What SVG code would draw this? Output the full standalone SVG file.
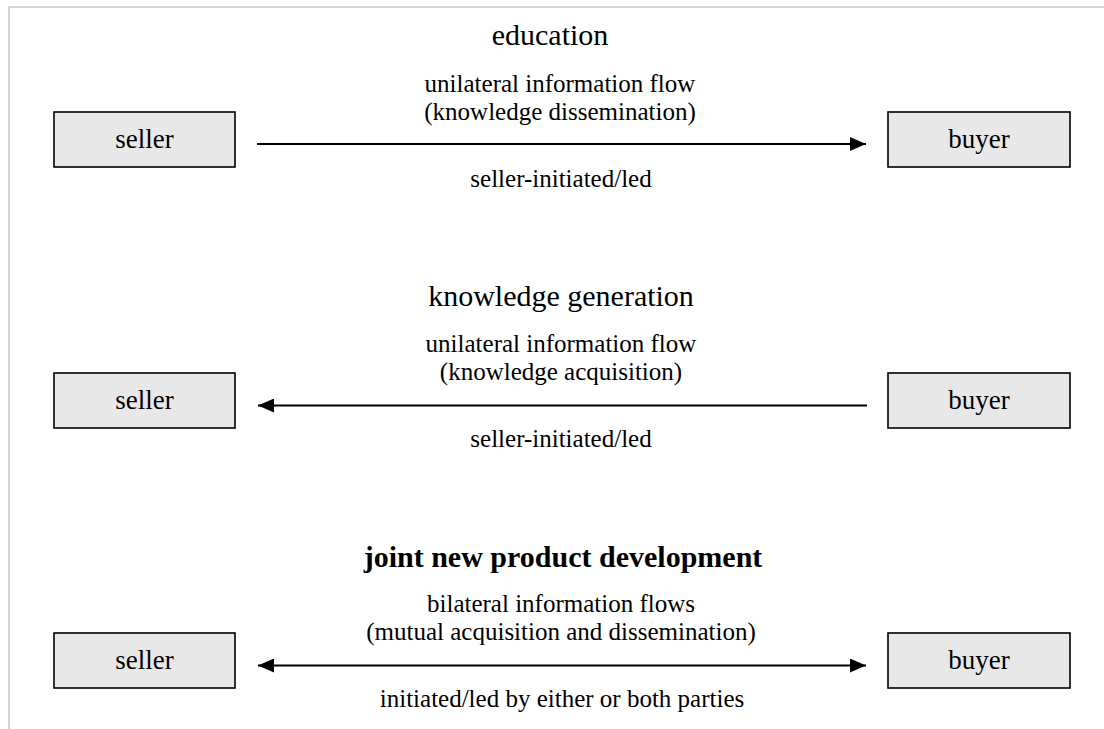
<svg xmlns="http://www.w3.org/2000/svg" width="1104" height="729" viewBox="0 0 1104 729">
<style>
text{font-family:"Liberation Serif","Tinos","Nimbus Roman","Times New Roman","DejaVu Serif",serif;fill:#000;text-anchor:middle;font-weight:normal}
.box{fill:#e8e8e8;stroke:#000;stroke-width:1.6}
.bt{font-size:27px}
.h{font-size:30px}
.hb{font-weight:bold}
.t{font-size:25px}
.ln{stroke:#000;stroke-width:1.8;fill:none}
</style>
<defs>
<marker id="ae" viewBox="0 0 16 14" refX="16" refY="7" markerWidth="16" markerHeight="14" markerUnits="userSpaceOnUse" orient="auto">
<path d="M0,0 L16,7 L0,14 Z" fill="#000"/>
</marker>
<marker id="as" viewBox="0 0 16 14" refX="0" refY="7" markerWidth="16" markerHeight="14" markerUnits="userSpaceOnUse" orient="auto">
<path d="M16,0 L0,7 L16,14 Z" fill="#000"/>
</marker>
</defs>
<rect width="1104" height="729" fill="#fff"/>
<rect x="9" y="7" width="1110" height="740" fill="none" stroke="#c8c8c8" stroke-width="1.6"/>

<g id="seller1"><rect class="box" x="54" y="112" width="181" height="55"/><text class="bt" x="144.5" y="148">seller</text></g>
<g id="buyer1"><rect class="box" x="888" y="112" width="182" height="55"/><text class="bt" x="979" y="148">buyer</text></g>
<g id="seller2"><rect class="box" x="54" y="373" width="181" height="55"/><text class="bt" x="144.5" y="409">seller</text></g>
<g id="buyer2"><rect class="box" x="888" y="373" width="182" height="55"/><text class="bt" x="979" y="409">buyer</text></g>
<g id="seller3"><rect class="box" x="54" y="633" width="181" height="55"/><text class="bt" x="144.5" y="669">seller</text></g>
<g id="buyer3"><rect class="box" x="888" y="633" width="182" height="55"/><text class="bt" x="979" y="669">buyer</text></g>

<g id="connectors">
<line class="ln" x1="257" y1="144" x2="866" y2="144" marker-end="url(#ae)"/>
<line class="ln" x1="867" y1="405.5" x2="258" y2="405.5" marker-end="url(#ae)"/>
<line class="ln" x1="258" y1="665.5" x2="866" y2="665.5" marker-start="url(#as)" marker-end="url(#ae)"/>
</g>

<g id="labels1">
<text class="h" x="550" y="45">education</text>
<text class="t" x="560" y="92">unilateral information flow</text>
<text class="t" x="560" y="120">(knowledge dissemination)</text>
<text class="t" x="561" y="187">seller-initiated/led</text>
</g>
<g id="labels2">
<text class="h" x="561" y="306">knowledge generation</text>
<text class="t" x="561" y="352">unilateral information flow</text>
<text class="t" x="561" y="380">(knowledge acquisition)</text>
<text class="t" x="561" y="447">seller-initiated/led</text>
</g>
<g id="labels3">
<text class="h hb" x="563" y="567">joint new product development</text>
<text class="t" x="561" y="612">bilateral information flows</text>
<text class="t" x="561" y="640">(mutual acquisition and dissemination)</text>
<text class="t" x="562" y="707">initiated/led by either or both parties</text>
</g>
</svg>
